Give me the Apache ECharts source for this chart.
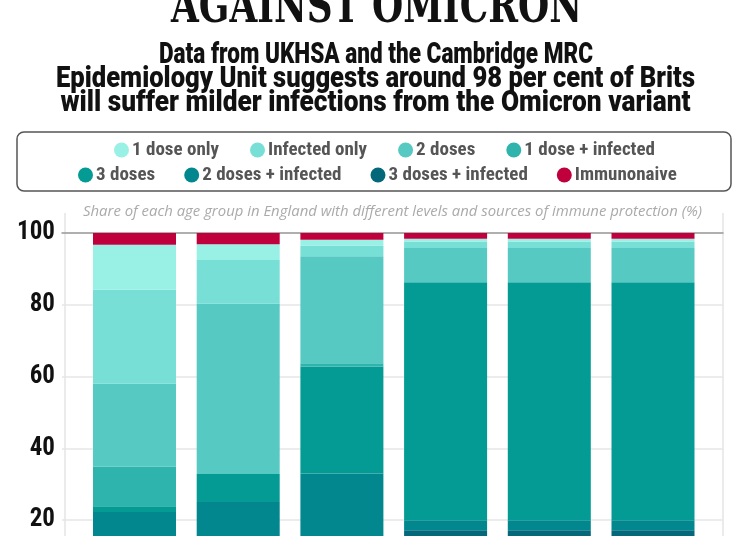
<!DOCTYPE html>
<html><head><meta charset="utf-8">
<script src="https://cdn.jsdelivr.net/npm/echarts@6/dist/echarts.min.js"></script>
<style>html,body{margin:0;padding:0;background:#fff}#c{width:750px;height:536px}</style>
</head><body><div id="c"></div>
<script>
// ---- data ----
const categories = ['12-17', '18-29', '30-49', '50-59', '60-69', '70+'];
const yTicks = [0, 20, 40, 60, 80, 100];
const threeDosesInfected = [1.0, 3.0, 5.0, 17.2, 17.2, 17.2];
const twoDosesInfected   = [21.3, 22.1, 28.0, 2.8, 2.8, 2.8];
const threeDoses         = [1.6, 7.8, 29.8, 66.3, 66.3, 66.3];
const oneDoseInfected    = [11.0, 0, 0.9, 0, 0, 0];
const twoDoses           = [23.1, 47.4, 29.8, 9.5, 9.5, 9.5];
const infectedOnly       = [26.2, 12.2, 3.0, 1.85, 1.85, 1.85];
const oneDoseOnly        = [12.5, 4.4, 1.6, 0.75, 0.75, 0.75];
const immunonaive        = [3.3, 3.1, 1.9, 1.6, 1.6, 1.6];
const legendRow1 = ['1 dose only', 'Infected only', '2 doses', '1 dose + infected'];
const legendRow2 = ['3 doses', '2 doses + infected', '3 doses + infected', 'Immunonaive'];

const titleText = 'AGAINST OMICRON';
const subLines = [
  'Data from UKHSA and the Cambridge MRC',
  'Epidemiology Unit suggests around 98 per cent of Brits',
  'will suffer milder infections from the Omicron variant'
];
const noteText = 'Share of each age group in England with different levels and sources of immune protection (%)';

// stack order bottom -> top
const stackSeries = [
  { name: '3 doses + infected', data: threeDosesInfected, color: '#04687a' },
  { name: '2 doses + infected', data: twoDosesInfected, color: '#03878f' },
  { name: '3 doses', data: threeDoses, color: '#039b93' },
  { name: '1 dose + infected', data: oneDoseInfected, color: '#2fb4ad' },
  { name: '2 doses', data: twoDoses, color: '#56c9c2' },
  { name: 'Infected only', data: infectedOnly, color: '#77dfd6' },
  { name: '1 dose only', data: oneDoseOnly, color: '#99f0e5' },
  { name: 'Immunonaive', data: immunonaive, color: '#c0003d' }
];

// ---- text fitting helpers ----
const mctx = document.createElement('canvas').getContext('2d');
function fitScale(text, font, target) {
  mctx.font = font;
  return target / mctx.measureText(text).width;
}
function fittedText(text, font, cx, cy, target, fill) {
  return {
    type: 'text', x: cx, y: cy, scaleX: fitScale(text, font, target),
    style: { text: text, x: 0, y: 0, font: font, fill: fill, textAlign: 'center', textVerticalAlign: 'middle' },
    silent: true
  };
}

const titleFont = "bold 49px 'DejaVu Serif'";
const subFont = "900 29px Roboto";
const noteFont = "italic 14.5px 'Open Sans'";
const legendFont = "'Roboto Condensed', 'DejaVu Sans Condensed', sans-serif";

const graphics = [
  fittedText(titleText, titleFont, 376.5, 9.5, 411, '#111'),
  fittedText(subLines[0], subFont, 376, 55.5, 434, '#111'),
  fittedText(subLines[1], subFont, 375.5, 79.5, 639, '#111'),
  fittedText(subLines[2], subFont, 375.5, 103.5, 630, '#111'),
  { type: 'rect', shape: { x: 17, y: 132, width: 714, height: 59, r: 7 },
    style: { fill: 'none', stroke: '#555', lineWidth: 1.5 }, silent: true },
  { type: 'line', shape: { x1: 65, y1: 213, x2: 65, y2: 540 }, style: { stroke: '#e4e4e4', lineWidth: 1.5 }, silent: true },
  { type: 'line', shape: { x1: 723, y1: 213, x2: 723, y2: 540 }, style: { stroke: '#e4e4e4', lineWidth: 1.5 }, silent: true },
  fittedText(noteText, noteFont, 392.5, 212, 619, '#aaaaaa')
];

const legendCommon = {
  icon: 'circle', itemWidth: 15, itemHeight: 15, padding: 0,
  selectedMode: false,
  textStyle: { fontFamily: legendFont, fontSize: 19, fontWeight: 'bold', color: '#555', lineHeight: 20, padding: [0, 0, 0, -2] }
};

const chart = echarts.init(document.getElementById('c'), null, { renderer: 'canvas' });
chart.setOption({
  animation: false,
  backgroundColor: '#fff',
  graphic: graphics,
  legend: [
    Object.assign({ data: legendRow1, left: 114, top: 140, itemGap: 31 }, legendCommon),
    Object.assign({ data: legendRow2, left: 78, top: 165, itemGap: 29 }, legendCommon)
  ],
  grid: [
    { left: 62, right: 27, top: 233, height: 359, outerBoundsMode: 'none', containLabel: false },
    { left: 82.65, right: 45.15, top: 233, height: 359, outerBoundsMode: 'none', containLabel: false }
  ],
  xAxis: [
    { gridIndex: 0, type: 'value', min: 0, max: 1, position: 'top',
      axisLine: { show: true, onZero: false, lineStyle: { color: '#9a9a9a', width: 1.5 } },
      axisTick: { show: false }, axisLabel: { show: false }, splitLine: { show: false } },
    { gridIndex: 1, type: 'category', data: categories, show: false }
  ],
  yAxis: [
    { gridIndex: 0, type: 'value', min: yTicks[0], max: yTicks[yTicks.length - 1], interval: 20,
      axisLine: { show: false }, axisTick: { show: false },
      axisLabel: { margin: 7, fontFamily: "'Roboto Condensed', Roboto", fontWeight: 'bold', fontSize: 25, color: '#111' },
      splitLine: { show: true, lineStyle: { color: '#e6e6e6', width: 1.5 } } },
    { gridIndex: 1, type: 'value', min: 0, max: 100, show: false }
  ],
  series: stackSeries.map(s => ({
    type: 'bar', name: s.name, stack: 'total', xAxisIndex: 1, yAxisIndex: 1,
    data: s.data, barWidth: 83, itemStyle: { color: s.color }, silent: true
  }))
});
</script></body></html>
